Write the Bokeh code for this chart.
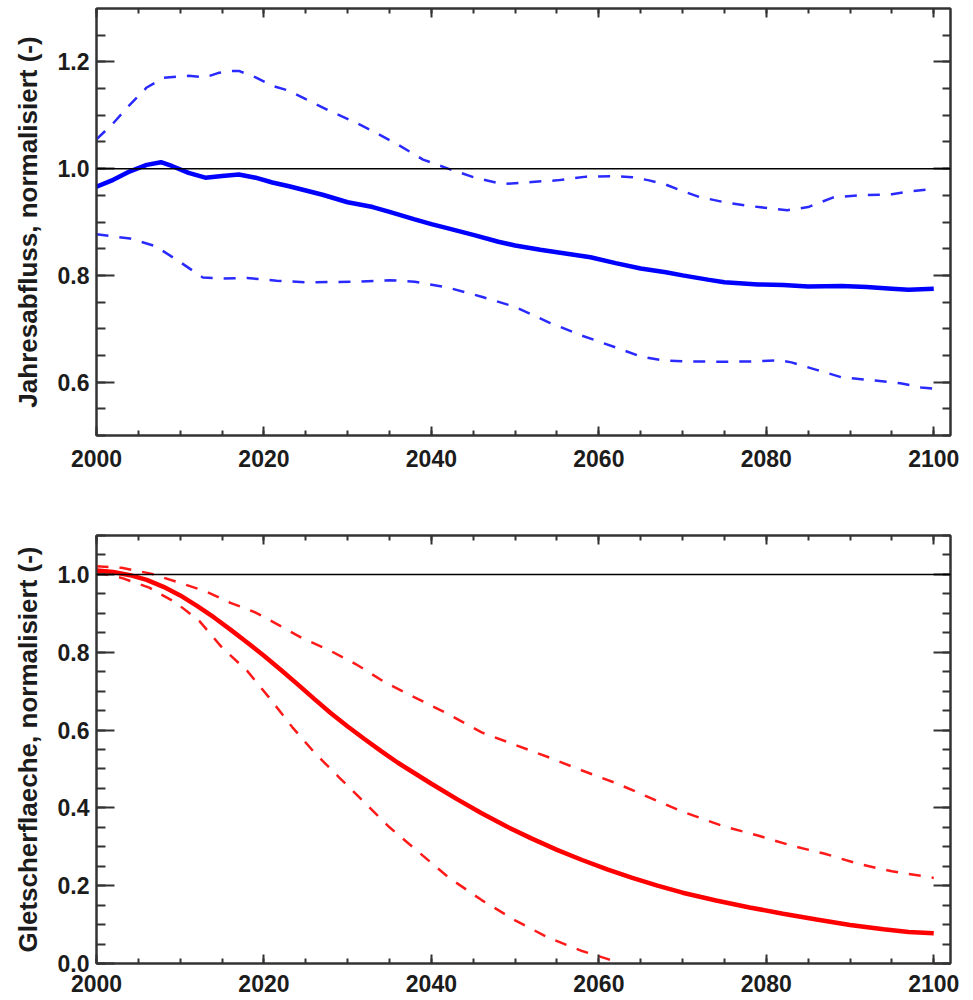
from bokeh.plotting import figure
from bokeh.models import (Range1d, LinearAxis, SingleIntervalTicker, PrintfTickFormatter, Span,
                          CustomLabelingPolicy)
from bokeh.layouts import column
from bokeh.embed import file_html
from bokeh.resources import INLINE

# ---------------- data: annual runoff (top panel) ----------------
q_mean_years = [2000, 2002, 2004, 2006, 2007.7, 2009, 2011, 2013, 2015, 2017, 2019, 2021, 2023,
                2025, 2027, 2030, 2033, 2035, 2038, 2040, 2042, 2045, 2048, 2050, 2053, 2056,
                2059, 2062, 2065, 2068, 2070, 2073, 2075, 2079, 2082, 2085, 2089, 2092, 2095,
                2097, 2100]
q_mean = [0.966, 0.979, 0.995, 1.007, 1.012, 1.005, 0.992, 0.983, 0.986, 0.989, 0.983, 0.974,
          0.967, 0.959, 0.951, 0.937, 0.928, 0.919, 0.905, 0.896, 0.888, 0.876, 0.863, 0.856,
          0.848, 0.841, 0.834, 0.823, 0.813, 0.806, 0.800, 0.792, 0.787, 0.783, 0.782, 0.779,
          0.780, 0.778, 0.775, 0.773, 0.775]

q_upper_years = [2000, 2002, 2004, 2006, 2008, 2011, 2013, 2014.5, 2016, 2017, 2019, 2021, 2023,
                 2025, 2028, 2031, 2034, 2036, 2039, 2042, 2045, 2048.5, 2052, 2055, 2058.5,
                 2061.5, 2064, 2066, 2068, 2070, 2072, 2075, 2078, 2082.5, 2085, 2088, 2091,
                 2095, 2097.5, 2100]
q_upper = [1.055, 1.085, 1.120, 1.152, 1.170, 1.174, 1.171, 1.179, 1.183, 1.183, 1.171, 1.155,
           1.146, 1.130, 1.107, 1.086, 1.062, 1.045, 1.017, 1.000, 0.984, 0.971, 0.975, 0.978,
           0.985, 0.986, 0.984, 0.978, 0.970, 0.958, 0.947, 0.937, 0.930, 0.922, 0.928, 0.946,
           0.950, 0.952, 0.958, 0.962]

q_lower_years = [2000, 2004, 2007, 2009.5, 2012.7, 2015, 2018, 2021.5, 2025, 2031, 2035, 2038,
                 2042, 2046, 2050, 2054, 2058, 2062, 2065, 2067.5, 2070, 2075, 2079, 2081.5,
                 2083, 2086, 2089, 2093, 2096, 2098.5, 2100]
q_lower = [0.877, 0.869, 0.855, 0.830, 0.796, 0.794, 0.795, 0.790, 0.787, 0.788, 0.791, 0.788,
           0.777, 0.760, 0.741, 0.712, 0.687, 0.665, 0.648, 0.641, 0.639, 0.638, 0.639, 0.641,
           0.637, 0.623, 0.609, 0.603, 0.598, 0.590, 0.588]

# ---------------- data: glacier area (bottom panel) ----------------
a_mean_years = [2000, 2002, 2004, 2006, 2008, 2010, 2012, 2014, 2016, 2018, 2020, 2022, 2024,
                2026, 2028, 2030, 2032, 2034, 2036, 2038, 2040, 2043, 2046, 2049, 2052, 2055,
                2058, 2061, 2064, 2067, 2070, 2074, 2078, 2082, 2086, 2090, 2094, 2097, 2100]
a_mean = [1.010, 1.006, 0.998, 0.986, 0.968, 0.946, 0.919, 0.890, 0.858, 0.825, 0.791, 0.755,
          0.718, 0.680, 0.643, 0.609, 0.577, 0.546, 0.516, 0.489, 0.462, 0.423, 0.386, 0.352,
          0.321, 0.292, 0.266, 0.242, 0.220, 0.200, 0.182, 0.162, 0.144, 0.128, 0.113, 0.099,
          0.088, 0.081, 0.078]

a_upper_years = [2000, 2003, 2006.5, 2010, 2013, 2016, 2019, 2021.5, 2024.5, 2028, 2031, 2034.5,
                 2038, 2042, 2046, 2050, 2054, 2058, 2062, 2066, 2070, 2075, 2079, 2083, 2087,
                 2091, 2095, 2100]
a_upper = [1.021, 1.017, 1.002, 0.978, 0.957, 0.927, 0.902, 0.873, 0.837, 0.803, 0.769, 0.722,
           0.684, 0.641, 0.594, 0.562, 0.530, 0.496, 0.464, 0.427, 0.390, 0.352, 0.329, 0.303,
           0.282, 0.256, 0.237, 0.220]

a_lower_years = [2000, 2003, 2006.3, 2009.5, 2012.3, 2015, 2018, 2020.6, 2023.4, 2026.2, 2029,
                 2032.2, 2035, 2038, 2042, 2046, 2050, 2054, 2058, 2061, 2062.5]
a_lower = [1.005, 0.991, 0.966, 0.927, 0.880, 0.812, 0.752, 0.684, 0.607, 0.538, 0.478, 0.410,
           0.350, 0.295, 0.222, 0.163, 0.111, 0.066, 0.032, 0.012, 0.000]

reference_level = 1.0
x_start, x_end = 2000, 2102
top_ylim = (0.5, 1.3)
bottom_ylim = (0.0, 1.1)
top_label = "Jahresabfluss, normalisiert (-)"
bottom_label = "Gletscherflaeche, normalisiert (-)"

FONT = "Liberation Sans"
TXT = "#1c1c1c"
AX = "#333333"

HIDE_LABELS = CustomLabelingPolicy(code="""
    for (const i of Array.from(indices)) indices.unset(i)
    return indices
""")


def style_axis(ax, major_in, minor_in, show_labels, standoff=8):
    ax.major_tick_in = major_in
    ax.major_tick_out = 0
    ax.minor_tick_in = minor_in
    ax.minor_tick_out = 0
    ax.major_tick_line_color = AX
    ax.minor_tick_line_color = AX
    ax.major_tick_line_width = 2
    ax.minor_tick_line_width = 2
    ax.axis_line_color = AX
    ax.axis_line_width = 2
    if show_labels:
        ax.major_label_text_font = FONT
        ax.major_label_text_font_style = "bold"
        ax.major_label_text_font_size = "23px"
        ax.major_label_text_color = TXT
        ax.major_label_standoff = standoff
    else:
        ax.major_label_text_font_size = "1px"
        ax.major_label_standoff = 0
        ax.major_label_policy = HIDE_LABELS


def make_panel(ylim, ylabel, frame_h, border_top, border_bottom, xstandoff):
    p = figure(frame_width=854, frame_height=frame_h, x_range=Range1d(x_start, x_end),
               y_range=Range1d(*ylim), output_backend="svg", toolbar_location=None,
               min_border_left=96, min_border_right=23, min_border_top=border_top,
               min_border_bottom=border_bottom)
    p.xgrid.visible = False
    p.ygrid.visible = False
    p.outline_line_color = AX
    p.outline_line_width = 2
    p.background_fill_color = "white"
    p.border_fill_color = "white"

    p.xaxis.ticker = SingleIntervalTicker(interval=20, num_minor_ticks=4)
    p.yaxis.ticker = SingleIntervalTicker(interval=0.2, num_minor_ticks=4)
    p.yaxis.formatter = PrintfTickFormatter(format="%.1f")
    style_axis(p.xaxis[0], 9, 5, True, xstandoff)
    style_axis(p.yaxis[0], 18, 9, True, 7)
    p.yaxis.axis_label = ylabel
    p.yaxis.axis_label_text_font = FONT
    p.yaxis.axis_label_text_font_style = "bold"
    p.yaxis.axis_label_text_font_size = "26px"
    p.yaxis.axis_label_text_color = TXT
    p.yaxis.axis_label_standoff = 12

    top = LinearAxis(ticker=SingleIntervalTicker(interval=20, num_minor_ticks=4))
    style_axis(top, 9, 5, False)
    p.add_layout(top, "above")
    right = LinearAxis(ticker=SingleIntervalTicker(interval=0.2, num_minor_ticks=4))
    style_axis(right, 17, 8, False)
    p.add_layout(right, "right")

    p.add_layout(Span(location=reference_level, dimension="width",
                      line_color="black", line_width=1.5))
    return p


p1 = make_panel(top_ylim, top_label, 427, 8, 65, 14)
p1.line(q_upper_years, q_upper, line_color="#2a2aff", line_width=2.5, line_dash="12 11")
p1.line(q_lower_years, q_lower, line_color="#2a2aff", line_width=2.5, line_dash="12 11")
p1.line(q_mean_years, q_mean, line_color="#0000ff", line_width=4.5)

p2 = make_panel(bottom_ylim, bottom_label, 428, 35, 37, 11)
p2.line(a_upper_years, a_upper, line_color="#ff1a1a", line_width=2.5, line_dash="12 11")
p2.line(a_lower_years, a_lower, line_color="#ff1a1a", line_width=2.5, line_dash="12 11")
p2.line(a_mean_years, a_mean, line_color="#ff0000", line_width=4.5)

layout = column(p1, p2, spacing=0)
open("out.html", "w").write(file_html(layout, INLINE))
